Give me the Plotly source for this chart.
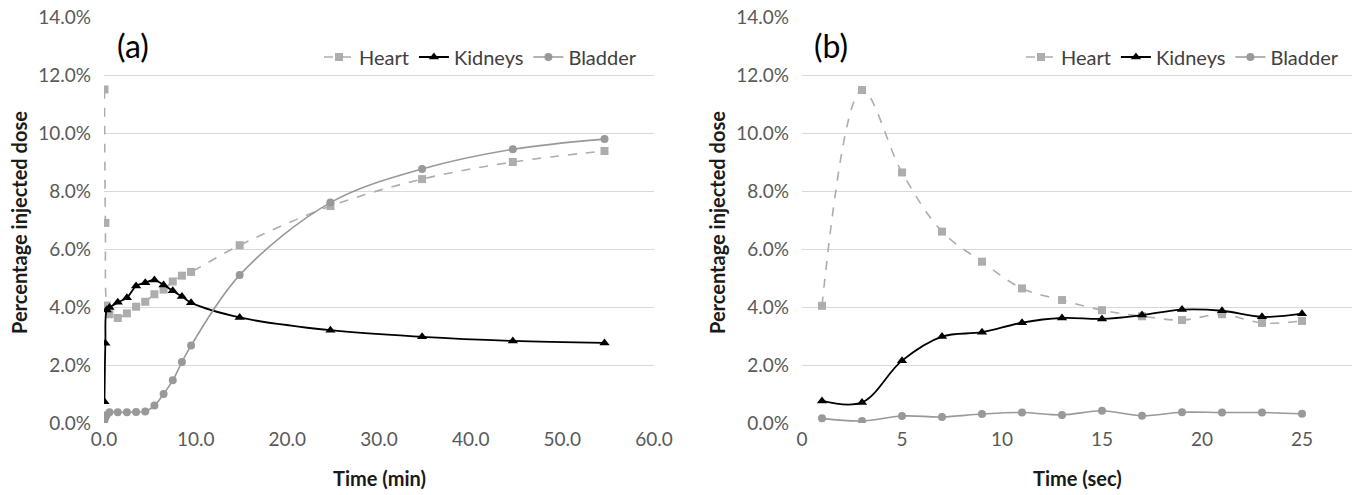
import plotly.graph_objects as go

# ---------- data ----------
# Panel (a): time in minutes
time_min = [0.05, 0.15, 0.3, 0.6, 1.5, 2.5, 3.5, 4.5, 5.5, 6.5, 7.5, 8.5, 9.5,
            14.8, 24.7, 34.7, 44.6, 54.6]
heart_a = [11.5, 6.9, 4.05, 3.75, 3.62, 3.78, 4.01, 4.18, 4.44, 4.6, 4.88, 5.08, 5.21,
           6.13, 7.48, 8.41, 9.0, 9.38]
kidneys_a = [0.73, 2.75, 3.9, 3.98, 4.16, 4.32, 4.72, 4.84, 4.93, 4.76, 4.56, 4.36, 4.15,
             3.64, 3.2, 2.97, 2.83, 2.76]
bladder_a = [0.1, 0.2, 0.28, 0.37, 0.37, 0.37, 0.38, 0.4, 0.6, 1.0, 1.47, 2.1, 2.67,
             5.1, 7.6, 8.76, 9.44, 9.79]

# Panel (b): time in seconds
time_sec = [1, 3, 5, 7, 9, 11, 13, 15, 17, 19, 21, 23, 25]
heart_b = [4.04, 11.48, 8.64, 6.6, 5.56, 4.64, 4.24, 3.89, 3.68, 3.55, 3.75, 3.45, 3.52]
kidneys_b = [0.76, 0.71, 2.15, 2.98, 3.13, 3.46, 3.62, 3.59, 3.72, 3.91, 3.87, 3.66, 3.77]
bladder_b = [0.16, 0.07, 0.24, 0.21, 0.31, 0.36, 0.28, 0.42, 0.25, 0.37, 0.36, 0.36, 0.32]

series_names = ["Heart", "Kidneys", "Bladder"]
y_ticks = [0, 2, 4, 6, 8, 10, 12, 14]
y_tick_labels = ["0.0%", "2.0%", "4.0%", "6.0%", "8.0%", "10.0%", "12.0%", "14.0%"]
x_ticks_a = [0, 10, 20, 30, 40, 50, 60]
x_tick_labels_a = ["0.0", "10.0", "20.0", "30.0", "40.0", "50.0", "60.0"]
x_ticks_b = [0, 5, 10, 15, 20, 25]

# ---------- styles ----------
W, H = 1357, 495
FONT = "Lato"
HEART_C = "#ADADAD"
KID_C = "#000000"
BLAD_C = "#999999"
TICK_C = "#595959"
GRID_C = "#D9D9D9"

styles = {
    "Heart": dict(line=dict(color=HEART_C, width=1.6, dash="dash", shape="spline"),
                  marker=dict(symbol="square", size=8, color=HEART_C)),
    "Kidneys": dict(line=dict(color=KID_C, width=1.8, shape="spline"),
                    marker=dict(symbol="triangle-up", size=9, color=KID_C)),
    "Bladder": dict(line=dict(color=BLAD_C, width=1.6, shape="spline"),
                    marker=dict(symbol="circle", size=8, color=BLAD_C)),
}

fig = go.Figure()

panel_a = [heart_a, kidneys_a, bladder_a]
panel_b = [heart_b, kidneys_b, bladder_b]
for name, ys in zip(series_names, panel_a):
    fig.add_trace(go.Scatter(x=time_min, y=ys, name=name, mode="lines+markers",
                             xaxis="x", yaxis="y", legend="legend", **styles[name]))
for name, ys in zip(series_names, panel_b):
    fig.add_trace(go.Scatter(x=time_sec, y=ys, name=name, mode="lines+markers",
                             xaxis="x2", yaxis="y2", legend="legend2", **styles[name]))

L_T, L_B = 17, 72
plot_h = H - L_T - L_B

def px_x(p):
    return p / W

def py(p):
    return (H - L_B - p) / plot_h

ax_common = dict(showgrid=False, zeroline=False, showline=False, ticks="",
                 automargin=False, ticklabelstandoff=3,
                 tickfont=dict(family=FONT, size=19, color=TICK_C))
yax_common = dict(range=[0, 14], tickvals=y_ticks, ticktext=y_tick_labels,
                  showgrid=True, gridcolor=GRID_C, gridwidth=1, zeroline=False,
                  showline=False, ticks="", ticklabelstandoff=12, automargin=False,
                  tickfont=dict(family=FONT, size=19, color=TICK_C))

legend_common = dict(orientation="h", yanchor="middle", xanchor="right",
                     font=dict(family=FONT, size=20, color="#404040"),
                     bgcolor="rgba(0,0,0,0)", itemwidth=30, tracegroupgap=0)

fig.update_layout(
    width=W, height=H,
    margin=dict(l=0, r=0, t=L_T, b=L_B, autoexpand=False),
    paper_bgcolor="white", plot_bgcolor="white",
    xaxis=dict(domain=[px_x(104), px_x(654)], range=[0, 60], tickvals=x_ticks_a,
               ticktext=x_tick_labels_a, anchor="y", **ax_common),
    yaxis=dict(anchor="x", **yax_common),
    xaxis2=dict(domain=[px_x(802), px_x(1352)], range=[0, 27.5], tickvals=x_ticks_b,
                anchor="y2", **ax_common),
    yaxis2=dict(anchor="x2", **yax_common),
    legend=dict(x=px_x(642), y=py(57), **legend_common),
    legend2=dict(x=px_x(1344), y=py(57), **legend_common),
    showlegend=True,
)

TITLE_FONT = dict(family=FONT, size=20, color="#1a1a1a")
annotations = [
    dict(text="(a)", x=px_x(115), y=py(45), xanchor="left", yanchor="middle",
         font=dict(family=FONT, size=32, color="#000000")),
    dict(text="(b)", x=px_x(812), y=py(45), xanchor="left", yanchor="middle",
         font=dict(family=FONT, size=32, color="#000000")),
    dict(text="<b>Percentage injected dose</b>", x=px_x(19), y=py(223), textangle=-90,
         xanchor="center", yanchor="middle", font=TITLE_FONT),
    dict(text="<b>Percentage injected dose</b>", x=px_x(717), y=py(223), textangle=-90,
         xanchor="center", yanchor="middle", font=TITLE_FONT),
    dict(text="<b>Time (min)</b>", x=px_x(379), y=py(478), xanchor="center", yanchor="middle",
         font=TITLE_FONT),
    dict(text="<b>Time (sec)</b>", x=px_x(1077), y=py(478), xanchor="center", yanchor="middle",
         font=TITLE_FONT),
]
for a in annotations:
    a.update(xref="paper", yref="paper", showarrow=False)
fig.update_layout(annotations=annotations)

fig.write_html("out.html")
